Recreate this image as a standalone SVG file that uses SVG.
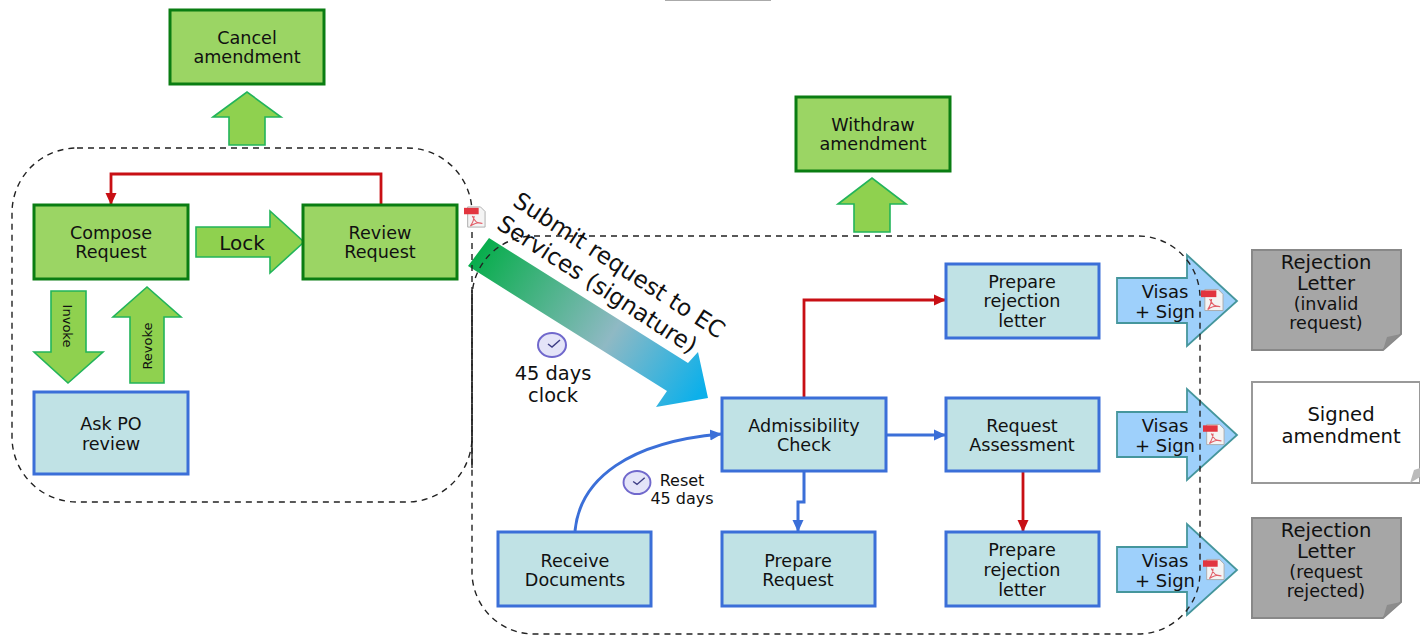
<svg xmlns="http://www.w3.org/2000/svg" width="1420" height="635" viewBox="0 0 1420 635">
<style>
text{font-family:"DejaVu Sans",Verdana,sans-serif;fill:#111;text-anchor:middle}
.t{font-size:17.6px}
.v{font-size:18px}
.h{font-size:19.6px}
.s{font-size:17.5px}
.c{font-size:19.4px}
.r{font-size:16px}
.sub{font-size:23.2px}
.gn{fill:#9bd564;stroke:#0a7d12;stroke-width:3}
.bl{fill:#c0e2e5;stroke:#3b6fd8;stroke-width:3}
.ga{fill:#8fd14f;stroke:#22b45a;stroke-width:1.6}
.va{fill:#9ed0fb;stroke:#45969c;stroke-width:1.8}
.dash{fill:none;stroke:#222;stroke-width:1.4;stroke-dasharray:6 5}
.red{fill:none;stroke:#c80f14;stroke-width:2.8}
.blu{fill:none;stroke:#3b6fd8;stroke-width:3}
.doc{fill:#a6a6a6;stroke:#888;stroke-width:2}
.fold{fill:#8c8c8c}
</style>
<defs>
<linearGradient id="sg" gradientUnits="userSpaceOnUse" x1="478" y1="252" x2="700" y2="392"><stop offset="0" stop-color="#07ad4b"/><stop offset=".6" stop-color="#8fb9c4"/><stop offset="1" stop-color="#0db0ea"/></linearGradient>
<marker id="mr" markerUnits="userSpaceOnUse" markerWidth="13" markerHeight="13" refX="11" refY="6.5" orient="auto"><path d="M0 1L12 6.500L0 12z" fill="#c80f14"/></marker>
<marker id="mb" markerUnits="userSpaceOnUse" markerWidth="13" markerHeight="13" refX="11" refY="6.5" orient="auto"><path d="M0 1L12 6.500L0 12z" fill="#3b6fd8"/></marker>
<symbol id="pdf" viewBox="0 0 24 24" overflow="visible"><path d="M4 1H18L23 6V23H4z" fill="#f4f4f4" stroke="#aaa"/><rect x="0" y="2" width="16" height="7" fill="#e2353f"/><path d="M9 11C12 17 14 19 20 19C15 17 9 20 7 22C9 19 11 16 11 11" fill="none" stroke="#e2606a" stroke-width="1.2"/></symbol>
<symbol id="clk" viewBox="0 0 30 26" overflow="visible"><ellipse cx="15" cy="13" rx="14" ry="12" fill="#e4e4f8" stroke="#7068cc" stroke-width="2"/><path d="M11 12L15 15L23 8" fill="none" stroke="#3f3f85" stroke-width="1.5"/></symbol>
</defs>
<rect width="1420" height="635" fill="#fff"/>
<path d="M665 .5H771" stroke="#aaa" fill="none"/>

<g id="connectors">
<path class="red" d="M381 205V174H111V204" marker-end="url(#mr)"/>
<path class="red" d="M804 397V300H945" marker-end="url(#mr)"/>
<path class="red" d="M1023 471V531" marker-end="url(#mr)"/>
<path class="blu" d="M887 435H945" marker-end="url(#mb)"/>
<path class="blu" d="M804 472V502H798V531" marker-end="url(#mb)"/>
<path class="blu" d="M575 531C580 478 630 442 721 434" marker-end="url(#mb)"/>
</g>

<g id="cancel"><rect class="gn" x="170" y="10" width="154" height="74"/><text class="t" x="247" y="44">Cancel</text><text class="t" x="247" y="63">amendment</text></g>
<g id="cancel-arrow"><path class="ga" d="M213 117L247 92L281 117H265V145H229V117z"/></g>
<g id="withdraw"><rect class="gn" x="796" y="97" width="154" height="74"/><text class="t" x="873" y="131">Withdraw</text><text class="t" x="873" y="150">amendment</text></g>
<g id="withdraw-arrow"><path class="ga" d="M838 204L872 178L906 204H890V232H854V204z"/></g>
<g id="compose"><rect class="gn" x="34" y="205" width="154" height="74"/><text class="t" x="111" y="239">Compose</text><text class="t" x="111" y="258">Request</text></g>
<g id="lock"><path class="ga" d="M196 227H270V211L304 242L270 273V257H196z"/><text x="242" y="250" font-size="20">Lock</text></g>
<g id="review"><rect class="gn" x="303" y="205" width="154" height="74"/><text class="t" x="380" y="239">Review</text><text class="t" x="380" y="258">Request</text></g>
<g id="invoke"><path class="ga" d="M51 291H86V352H103L68 383L34 352H51z"/><text font-size="13" transform="translate(63 326) rotate(90)">Invoke</text></g>
<g id="revoke"><path class="ga" d="M130 383V317H113L147 287L181 317H164V383z"/><text font-size="13" transform="translate(152 346) rotate(-90)">Revoke</text></g>
<g id="ask-po"><rect class="bl" x="34" y="392" width="154" height="82"/><text class="t" x="111" y="430">Ask PO</text><text class="t" x="111" y="450">review</text></g>

<g id="submit"><path fill="url(#sg)" d="M489 238L688 363L698 352L708 398L656 407L667 391L468 266z"/></g>
<g id="clock-45"><use href="#clk" x="537" y="332" width="30" height="26"/><text class="c" x="553" y="380">45 days</text><text class="c" x="553" y="402">clock</text></g>
<g id="clock-reset"><use href="#clk" x="622" y="470" width="30" height="25"/><text class="r" x="682" y="486">Reset</text><text class="r" x="682" y="504">45 days</text></g>

<g id="admissibility"><rect class="bl" x="722" y="398" width="164" height="73"/><text class="t" x="804" y="432">Admissibility</text><text class="t" x="804" y="451">Check</text></g>
<g id="receive"><rect class="bl" x="498" y="532" width="153" height="74"/><text class="t" x="575" y="567">Receive</text><text class="t" x="575" y="586">Documents</text></g>
<g id="prepare-request"><rect class="bl" x="722" y="532" width="153" height="74"/><text class="t" x="798" y="567">Prepare</text><text class="t" x="798" y="586">Request</text></g>
<g id="prepare-top"><rect class="bl" x="946" y="264" width="153" height="74"/><text class="t" x="1022" y="288">Prepare</text><text class="t" x="1022" y="307">rejection</text><text class="t" x="1022" y="327">letter</text></g>
<g id="assessment"><rect class="bl" x="946" y="398" width="153" height="73"/><text class="t" x="1022" y="432">Request</text><text class="t" x="1022" y="451">Assessment</text></g>
<g id="prepare-bottom"><rect class="bl" x="946" y="532" width="153" height="74"/><text class="t" x="1022" y="556">Prepare</text><text class="t" x="1022" y="576">rejection</text><text class="t" x="1022" y="596">letter</text></g>

<g id="visas-1"><path class="va" d="M1117 278H1187V255L1237 301L1187 346V323H1117z"/><text class="v" x="1165" y="298">Visas</text><text class="v" x="1165" y="318">+ Sign</text></g>
<g id="visas-2"><path class="va" d="M1117 412H1187V389L1237 435L1187 480V457H1117z"/><text class="v" x="1165" y="432">Visas</text><text class="v" x="1165" y="452">+ Sign</text></g>
<g id="visas-3"><path class="va" d="M1117 547H1187V524L1237 570L1187 615V592H1117z"/><text class="v" x="1165" y="567">Visas</text><text class="v" x="1165" y="587">+ Sign</text></g>

<g id="containers">
<rect class="dash" x="12" y="148" width="460" height="354" rx="65"/>
<rect class="dash" x="472" y="236" width="728" height="398" rx="62"/>
<path d="M472 290V468" fill="none" stroke="#222" stroke-width="1.4"/>
</g>

<g id="submit-label">
<text class="sub" transform="translate(615 272) rotate(33)">Submit request to EC</text>
<text class="sub" transform="translate(593 291) rotate(33)">Services (signature)</text>
</g>
<g id="pdf-icons">
<use href="#pdf" x="464" y="206" width="22" height="22"/>
<use href="#pdf" x="1201" y="288" width="23" height="24"/>
<use href="#pdf" x="1203" y="423" width="22" height="23"/>
<use href="#pdf" x="1203" y="558" width="22" height="23"/>
</g>

<g id="rejection-invalid"><path class="doc" d="M1252 250H1401V334L1383 350H1252z"/><path class="fold" d="M1383 350L1387 337L1401 334z"/><text class="h" x="1326" y="269">Rejection</text><text class="h" x="1326" y="290">Letter</text><text class="s" x="1326" y="310">(invalid</text><text class="s" x="1326" y="329">request)</text></g>
<g id="signed"><path d="M1252 382H1420V483H1252z" fill="#fff" stroke="#999" stroke-width="2"/><path d="M1410 483L1414 470L1420 468V477z" fill="#bbb"/><text class="h" x="1341" y="421">Signed</text><text class="h" x="1341" y="443">amendment</text></g>
<g id="rejection-rejected"><path class="doc" d="M1252 518H1401V602L1383 618H1252z"/><path class="fold" d="M1383 618L1387 605L1401 602z"/><text class="h" x="1326" y="537">Rejection</text><text class="h" x="1326" y="558">Letter</text><text class="s" x="1326" y="578">(request</text><text class="s" x="1326" y="597">rejected)</text></g>
</svg>
